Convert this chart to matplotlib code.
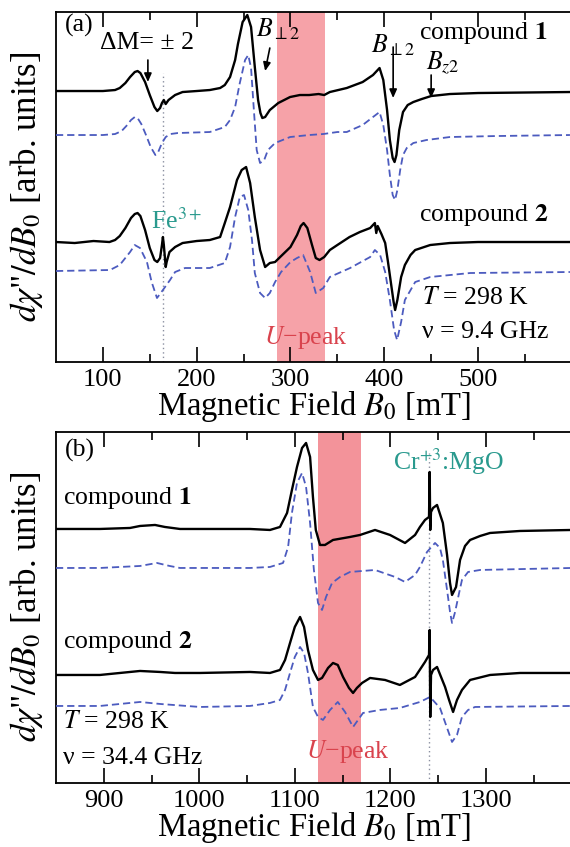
import numpy as np
import matplotlib
matplotlib.use("Agg")
import matplotlib.pyplot as plt

plt.rcParams['font.family'] = ['Liberation Serif', 'DejaVu Serif']
plt.rcParams['mathtext.fontset'] = 'stix'

# --- X-band spectra (panel a): field [mT], signal [arb. units] ---
xa_c1 = [50, 80, 100, 113, 118, 124, 129, 134, 137, 140, 145, 150, 155, 158, 161, 163, 165, 167, 170,
         177, 185, 200, 214, 225, 230, 235.6, 241, 244, 249, 254, 258, 262, 265.5, 268,
         270, 273, 278, 287, 299.6, 310, 320, 330, 336, 342, 360, 377, 388, 395, 399, 403, 406, 409,
         411, 413, 416, 420, 425, 431, 440, 450, 470, 500, 598]
ya_c1 = [271, 271, 271, 272, 274, 279, 285, 290, 291, 289, 280, 267, 255, 251, 254, 259, 262, 258, 262,
         267, 270, 271, 272, 274, 277, 285, 302, 318, 340, 347, 335, 295, 262, 249,
         244, 245, 252, 259, 265, 267, 267, 268, 267, 270, 274, 280, 287, 294, 282, 252, 222, 204,
         200, 207, 232, 250, 257, 260, 263, 266, 268, 269, 270]

xa_c1_fit = [50, 100, 113, 120, 125, 130, 134, 137, 141, 146, 151, 156, 159, 163, 167, 172, 180, 214,
             230, 235.6, 241, 246, 251.6, 255, 258, 261, 264, 267.6, 272, 276, 283.6, 299.6, 320, 335,
             350, 360, 377, 388, 395, 399, 403, 406, 409, 411.5, 414, 417, 420, 424, 431, 445, 470,
             520, 598]
ya_c1_fit = [227, 227, 228, 231, 236, 242, 245, 244, 238, 227, 215, 207, 210, 219, 225, 228, 229, 230,
             235, 242, 255, 279, 302, 307, 294, 252, 212, 199, 202, 212, 219, 225, 227, 228,
             230, 230, 237, 245, 250, 237, 212, 187, 167, 162, 172, 192, 207, 214, 219, 222, 225,
             226, 227]

xa_c2 = [50, 70, 90, 107, 113, 118, 124, 130, 134, 137, 140, 145, 150, 155, 158, 161, 163, 164, 165,
         167, 168, 171, 177, 185, 200, 214, 225, 230, 235.6, 243, 248, 252.7, 257, 262, 267.6, 273,
         278, 283.6, 289, 300, 307, 311, 314, 318, 323, 327, 331, 336, 342, 350, 363, 374, 385, 390,
         391.5, 393, 397, 401, 404, 407, 410, 411.6, 414, 418, 422, 428, 433, 449, 470, 500, 540, 598]
ya_c2 = [120, 119, 121, 120, 122, 126, 134, 144, 148, 149, 146, 132, 114, 102, 100, 104, 117, 125, 117,
         95, 100, 110, 115, 119, 121, 122, 125, 139, 155, 182, 192, 195, 179, 145, 112, 95,
         99, 100, 105, 115, 127, 136, 139, 134, 117, 104, 102, 105, 112, 117, 125, 130, 134, 139,
         129, 136, 128, 119, 100, 80, 60, 52, 62, 85, 97, 107, 112, 117, 119, 120, 120, 120]

xa_c2_fit = [50, 107.6, 118, 129, 134, 139.6, 147, 152, 157.7, 164, 171.6, 177, 187.6, 214, 230, 235.6,
             241, 246, 250.5, 255, 259, 262, 267.6, 273, 278, 283.6, 290, 300, 307, 313.5, 321, 327,
             335, 342, 363.6, 385, 390, 395.6, 401, 406, 410.5, 413.7, 418, 422, 433, 449, 491.6, 598]
ya_c2_fit = [91, 92, 97, 110, 117, 114, 100, 80, 64, 72, 82, 90, 94, 94, 99, 115,
             145, 165, 167, 152, 122, 89, 69, 64, 69, 80, 90, 100, 104, 107, 90, 69,
             74, 85, 94, 105, 112, 107, 90, 62, 32, 22, 40, 62, 80, 85, 89, 90]

# --- Q-band spectra (panel b) ---
xb_c1 = [850, 896, 927.5, 938, 953.7, 964, 979.8, 1000.8, 1053, 1074, 1084.5, 1091.9, 1097, 1102.3,
         1107.6, 1111.8, 1116, 1119, 1122, 1126.4, 1131.6, 1140, 1157.8, 1168.3, 1184, 1199.7, 1215.4,
         1225.9, 1231, 1236.3, 1240.5, 1241.2, 1241.8, 1242.6, 1244.7, 1248.9, 1255, 1259.4, 1262.5,
         1264.6, 1268.8, 1273, 1278.2, 1283.5, 1294, 1304.4, 1335.8, 1390]
yb_c1 = [254, 254, 255, 257, 258, 256, 254, 254, 254, 253, 256, 270, 293, 316,
         335, 340, 326, 286, 253, 238, 238, 243, 246, 248, 253, 248, 240,
         248, 256, 263, 266, 311, 253, 271, 275, 278, 260, 228, 200,
         188, 196, 223, 237, 243, 247, 250, 252, 253]

xb_c1_fit = [850, 896, 938, 955.7, 969, 979.8, 1053, 1074, 1087.7, 1093, 1097, 1102.3, 1107.6, 1111.8,
             1116, 1120, 1124.3, 1128.5, 1132.7, 1139, 1147.4, 1157.8, 1184, 1205, 1215.4, 1225.9, 1231,
             1238.4, 1246.8, 1252, 1255, 1259.4, 1262.5, 1264.6, 1267.8, 1272, 1275, 1281.4, 1294, 1390]
yb_c1_fit = [215, 215, 217, 220, 217, 215, 215, 216, 220, 236, 270, 300, 310, 296,
             260, 213, 180, 173, 186, 200, 206, 211, 213, 206, 201, 208, 216,
             231, 240, 235, 223, 193, 171, 160, 171, 190, 203, 211, 213, 215]

xb_c2 = [850, 896, 917, 938, 959, 974.6, 1000.8, 1053, 1074, 1084.5, 1089.8, 1095, 1100, 1105.5,
         1109.7, 1113.8, 1119, 1124.3, 1128.5, 1134.8, 1140, 1145, 1150.5, 1156.7, 1161, 1165, 1170.4,
         1178.8, 1194.5, 1210, 1225.9, 1236.3, 1240.5, 1241.2, 1241.8, 1242.6, 1244.7, 1248.9, 1257.3,
         1261.5, 1265.7, 1269.8, 1275, 1283.5, 1304.4, 1335.8, 1390]
yb_c2 = [108, 108, 110, 112, 111, 110, 110, 111, 110, 113, 123, 140, 156, 166,
         156, 133, 113, 103, 105, 115, 120, 118, 106, 95, 90, 95, 100,
         105, 103, 98, 106, 121, 128, 153, 66, 108, 113, 116, 96,
         83, 71, 83, 93, 103, 108, 110, 110]

xb_c2_fit = [850, 896, 938, 959, 1000.8, 1053, 1074, 1084.5, 1089.8, 1095, 1100, 1105.5, 1109.7, 1113.8,
             1119, 1124.3, 1129.5, 1136.9, 1145, 1152.6, 1161, 1171.4, 1189, 1210, 1231, 1241.6, 1252,
             1258.3, 1264.6, 1269.8, 1275, 1281.4, 1288.7, 1390]
yb_c2_fit = [77, 77, 81, 79, 76, 77, 80, 83, 93, 110, 126, 136, 130, 110,
             76, 66, 63, 73, 81, 71, 56, 70, 73, 75, 81, 86, 75,
             58, 41, 48, 66, 73, 76, 77]

# U-peak windows and reference lines [mT]
upeak_a = (286, 337)
upeak_b = (1124, 1169)
fe_line = 164
cr_line = 1240

FS = 18.5
EXP_COLOR = 'black'
FIT_COLOR = '#4c5bbf'
TEAL = '#2a9a8e'
RED = '#d9434d'

fig = plt.figure(figsize=(5.70, 8.47), dpi=100)
ax_a = fig.add_axes([0.0982, 0.5726, 0.905, 0.4132])
ax_b = fig.add_axes([0.0982, 0.0756, 0.905, 0.4144])


def style_axis(ax, xlim, ylim, major, minor):
    ax.set_xlim(*xlim)
    ax.set_ylim(*ylim)
    ax.set_yticks([])
    ax.set_xticks(major)
    ax.set_xticks(minor, minor=True)
    ax.tick_params(axis='x', which='both', direction='in', top=True, bottom=True,
                   labelsize=19, width=1.2, pad=5)
    ax.tick_params(axis='x', which='major', length=11)
    ax.tick_params(axis='x', which='minor', length=6)
    for side in ['left', 'top', 'bottom']:
        ax.spines[side].set_linewidth(1.3)
    ax.spines['right'].set_visible(False)
    ax.set_xlabel(r'Magnetic Field $B_0$ [mT]', fontsize=23.5)
    ax.xaxis.set_label_coords(0.5, -0.077)
    ax.set_ylabel(r'$d\chi$"$/dB_0$ [arb. units]', fontsize=25)
    ax.yaxis.set_label_coords(-0.022, 0.5)


def draw_spectra(ax, curves):
    for x, y, fit in curves:
        if fit:
            ax.plot(x, y, color=FIT_COLOR, lw=1.3, dashes=(4, 2.2), zorder=3)
        else:
            ax.plot(x, y, color=EXP_COLOR, lw=1.7, zorder=4, solid_joinstyle='round')


# ---- panel (a): 9.4 GHz ----
ax_a.axvspan(*upeak_a, color='#f6a2a8', lw=0, zorder=0)
ax_a.plot([fe_line, fe_line], [0, 289], color='#8a8fa0', lw=1.0, ls=(0, (1, 2.2)), zorder=1)
draw_spectra(ax_a, [(xa_c1_fit, ya_c1_fit, True), (xa_c1, ya_c1, False),
                    (xa_c2_fit, ya_c2_fit, True), (xa_c2, ya_c2, False)])
style_axis(ax_a, (50, 600), (0, 350), [100, 200, 300, 400, 500], [150, 250, 350, 450, 550])

ax_a.text(59, 337, '(a)', fontsize=FS, va='center')
ax_a.text(97, 319, 'ΔM= ± 2', fontsize=FS, va='center')
ax_a.text(263, 333, r'$B_{\perp 2}$', fontsize=FS, va='center')
ax_a.text(386, 317, r'$B_{\perp 2}$', fontsize=FS, va='center')
ax_a.text(445, 299, r'$B_{z2}$', fontsize=FS, va='center')
ax_a.text(437, 329, r'compound $\mathbf{1}$', fontsize=FS, va='center')
ax_a.text(437, 147, r'compound $\mathbf{2}$', fontsize=FS, va='center')
ax_a.text(151, 141, r'Fe$^{3+}$', fontsize=FS, va='center', color=TEAL)
ax_a.text(440, 64, r'$T$ = 298 K', fontsize=FS, va='center')
ax_a.text(440, 30, 'ν = 9.4 GHz', fontsize=FS, va='center')
ax_a.text(272, 25, r'$U$−peak', fontsize=FS, va='center', color=RED)

arrow = dict(arrowstyle='-|>,head_length=0.5,head_width=0.22', color='black', lw=1.2,
             shrinkA=0, shrinkB=0)
for tail, head in [((148, 302), (148, 280)), ((278, 314), (273, 291)),
                   ((409.5, 315), (409.5, 264)), ((450, 287), (450, 264))]:
    ax_a.annotate('', xy=head, xytext=tail, arrowprops=arrow, zorder=5)

# ---- panel (b): 34.4 GHz ----
ax_b.axvspan(*upeak_b, color='#f3939a', lw=0, zorder=0)
ax_b.plot([cr_line, cr_line], [0, 330], color='#8a8fa0', lw=1.0, ls=(0, (1, 2.2)), zorder=1)
draw_spectra(ax_b, [(xb_c1_fit, yb_c1_fit, True), (xb_c1, yb_c1, False),
                    (xb_c2_fit, yb_c2_fit, True), (xb_c2, yb_c2, False)])
style_axis(ax_b, (850, 1390), (0, 351), [900, 1000, 1100, 1200, 1300],
           [950, 1050, 1150, 1250, 1350])

ax_b.text(859, 333, '(b)', fontsize=FS, va='center')
ax_b.text(857, 285, r'compound $\mathbf{1}$', fontsize=FS, va='center')
ax_b.text(857, 141, r'compound $\mathbf{2}$', fontsize=FS, va='center')
ax_b.text(857, 61, r'$T$ = 298 K', fontsize=FS, va='center')
ax_b.text(857, 25, 'ν = 34.4 GHz', fontsize=FS, va='center')
ax_b.text(1203, 321, r'Cr$^{+3}$:MgO', fontsize=FS, va='center', color=TEAL)
ax_b.text(1112, 31, r'$U$−peak', fontsize=FS, va='center', color=RED)

fig.savefig('out.png', dpi=100)
